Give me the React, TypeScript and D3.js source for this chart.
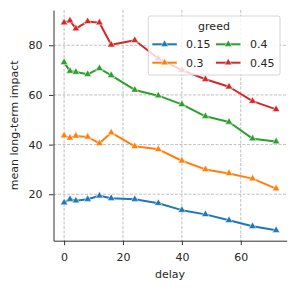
import React, { useEffect, useRef } from 'react';
import * as d3 from 'd3';

const delays = [0, 2, 4, 8, 12, 16, 24, 32, 40, 48, 56, 64, 72];
const greedLevels = ['0.15', '0.3', '0.4', '0.45'];
const impact015 = [16.6, 18.0, 17.4, 18.0, 19.4, 18.4, 18.0, 16.4, 13.6, 11.9, 9.5, 7.1, 5.5];
const impact03 = [43.6, 42.7, 43.5, 43.1, 40.5, 44.8, 39.3, 38.1, 33.5, 30.0, 28.4, 26.3, 22.3];
const impact04 = [73.1, 69.6, 69.2, 68.3, 70.7, 67.9, 62.0, 59.7, 56.2, 51.4, 49.1, 42.4, 41.2];
const impact045 = [89.1, 89.9, 86.7, 89.6, 89.1, 80.2, 82.0, 74.7, 70.0, 66.3, 63.3, 57.5, 54.2];
const colors = ['#1f77b4', '#ff7f0e', '#2ca02c', '#d62728'];
const xTicks = [0, 20, 40, 60];
const yTicks = [20, 40, 60, 80];

const W = 295, H = 292;
const FONT = 'DejaVu Sans, sans-serif';
const FS = '11px';

const App = () => {
  const ref = useRef<SVGSVGElement>(null);

  useEffect(() => {
    const svg = d3.select(ref.current);
    svg.selectAll('*').remove();

    const left = 53.5, right = 286.7, top = 10, bottom = 240.7;
    const x = d3.scaleLinear().domain([-3.6, 75.6]).range([left, right]);
    const y = d3.scaleLinear().domain([1.3, 94.2]).range([bottom, top]);

    const series = [impact015, impact03, impact04, impact045];

    // grid
    const grid = svg.append('g');
    grid.selectAll('.gx').data(xTicks).enter().append('line')
      .attr('x1', d => x(d)).attr('x2', d => x(d))
      .attr('y1', top).attr('y2', bottom)
      .attr('stroke', '#b0b0b0').attr('stroke-width', 0.8).attr('stroke-dasharray', '3,1.5');
    grid.selectAll('.gy').data(yTicks).enter().append('line')
      .attr('x1', left).attr('x2', right)
      .attr('y1', d => y(d)).attr('y2', d => y(d))
      .attr('stroke', '#b0b0b0').attr('stroke-width', 0.8).attr('stroke-dasharray', '3,1.5');

    const tri = d3.symbol().type(d3.symbolTriangle).size(24);
    const line = d3.line<number>().x((_, i) => x(delays[i])).y(d => y(d));

    series.forEach((vals, k) => {
      svg.append('path').datum(vals)
        .attr('d', line)
        .attr('fill', 'none')
        .attr('stroke', colors[k])
        .attr('stroke-width', 2)
        .attr('stroke-linejoin', 'round')
        .attr('stroke-linecap', 'round');
      svg.append('g').selectAll('path').data(vals).enter().append('path')
        .attr('d', tri)
        .attr('transform', (d, i) => `translate(${x(delays[i])},${y(d)})`)
        .attr('fill', colors[k])
        .attr('stroke', '#fff')
        .attr('stroke-width', 0.5);
    });

    // axes
    const xAxis = svg.append('g')
      .attr('transform', `translate(0,${bottom})`)
      .call(d3.axisBottom(x).tickValues(xTicks).tickSize(4.5).tickPadding(8).tickSizeOuter(0));
    const yAxis = svg.append('g')
      .attr('transform', `translate(${left},0)`)
      .call(d3.axisLeft(y).tickValues(yTicks).tickSize(4.5).tickPadding(6.5).tickSizeOuter(0));
    [xAxis, yAxis].forEach(a => {
      a.select('.domain').attr('stroke', '#333').attr('stroke-width', 1);
      a.selectAll('.tick line').attr('stroke', '#333').attr('stroke-width', 1);
      a.selectAll('.tick text').attr('fill', '#262626').style('font-family', FONT).style('font-size', FS);
    });

    svg.append('text')
      .attr('x', (left + right) / 2).attr('y', 278)
      .attr('text-anchor', 'middle')
      .style('font-family', FONT).style('font-size', FS).attr('fill', '#262626')
      .text('delay');
    svg.append('text')
      .attr('transform', `translate(18,${(top + bottom) / 2}) rotate(-90)`)
      .attr('text-anchor', 'middle')
      .style('font-family', FONT).style('font-size', FS).attr('fill', '#262626')
      .text('mean long-term impact');

    // legend
    const lg = svg.append('g');
    lg.append('rect')
      .attr('x', 148.3).attr('y', 16).attr('width', 131.7).attr('height', 59)
      .attr('rx', 2).attr('fill', '#fff').attr('fill-opacity', 0.8)
      .attr('stroke', '#cccccc').attr('stroke-width', 0.8);
    lg.append('text')
      .attr('x', 214).attr('y', 29.5).attr('text-anchor', 'middle')
      .style('font-family', FONT).style('font-size', FS).attr('fill', '#262626')
      .text('greed');
    greedLevels.forEach((g, k) => {
      const col = k < 2 ? 0 : 1;
      const row = k % 2;
      const hx = col === 0 ? 152.3 : 216;
      const hy = row === 0 ? 44.3 : 62.7;
      lg.append('line')
        .attr('x1', hx).attr('x2', hx + 24.5).attr('y1', hy).attr('y2', hy)
        .attr('stroke', colors[k]).attr('stroke-width', 2);
      lg.append('path').attr('d', tri)
        .attr('transform', `translate(${hx + 12.25},${hy})`)
        .attr('fill', colors[k]).attr('stroke', '#fff').attr('stroke-width', 0.5);
      lg.append('text')
        .attr('x', col === 0 ? 186 : 250).attr('y', hy + 4)
        .style('font-family', FONT).style('font-size', FS).attr('fill', '#262626')
        .text(g);
    });
  }, []);

  return <svg ref={ref} width={W} height={H} style={{ position: 'absolute', left: 0, top: 0 }} />;
};

export default App;
